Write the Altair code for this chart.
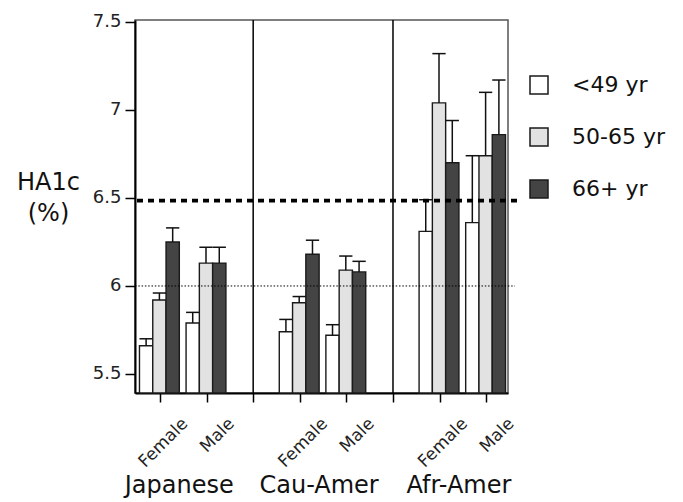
import altair as alt
import pandas as pd

groups = ["Japanese", "Cau-Amer", "Afr-Amer"]
sexes = ["Female", "Male"]
ages = ["<49 yr", "50-65 yr", "66+ yr"]

# mean HA1c per group / sex / age band
means = {
    ("Japanese", "Female"): [5.66, 5.92, 6.25],
    ("Japanese", "Male"): [5.79, 6.13, 6.13],
    ("Cau-Amer", "Female"): [5.74, 5.905, 6.18],
    ("Cau-Amer", "Male"): [5.72, 6.09, 6.08],
    ("Afr-Amer", "Female"): [6.31, 7.04, 6.70],
    ("Afr-Amer", "Male"): [6.36, 6.74, 6.86],
}
# top of the error bar
uppers = {
    ("Japanese", "Female"): [5.70, 5.96, 6.33],
    ("Japanese", "Male"): [5.85, 6.22, 6.22],
    ("Cau-Amer", "Female"): [5.81, 5.94, 6.26],
    ("Cau-Amer", "Male"): [5.78, 6.17, 6.14],
    ("Afr-Amer", "Female"): [6.49, 7.32, 6.94],
    ("Afr-Amer", "Male"): [6.74, 7.10, 7.17],
}
threshold_dashed = 6.485
threshold_dotted = 6.0
y_ticks = [5.5, 6, 6.5, 7, 7.5]
fills = ["#ffffff", "#e2e2e2", "#444444"]

W, H = 373, 373
bar_left = [-0.44, -0.155, 0.13]
bar_w = 0.285

rows = []
for gi, g in enumerate(groups):
    for si, s in enumerate(sexes):
        pos = gi * 3 + si + 1
        for ai, a in enumerate(ages):
            x0 = pos + bar_left[ai]
            rows.append(dict(group=g, sex=s, age=a, mean=means[(g, s)][ai],
                             upper=uppers[(g, s)][ai], x0=x0, x1=x0 + bar_w,
                             xc=x0 + bar_w / 2))
df = pd.DataFrame(rows)

xscale = alt.Scale(domain=[0.464, 8.468], nice=False, zero=False)
yscale = alt.Scale(domain=[5.392, 7.511], nice=False, zero=False)

label_expr = ("datum.value % 3 == 1 ? '" + sexes[0] + "' : (datum.value % 3 == 2 ? '"
              + sexes[1] + "' : '')")

xaxis = alt.Axis(values=list(range(1, 9)), labelExpr=label_expr, labelAngle=-45,
                 labelFontSize=17, labelColor="#222", grid=False, title=None,
                 labelOverlap=False, labelBound=False, labelFlush=False,
                 domainColor="black", domainWidth=2, tickColor="black", tickWidth=1.5,
                 tickSize=9, labelOffset=19, labelPadding=13)
yaxis = alt.Axis(values=y_ticks, format="~g", labelFontSize=18, labelColor="#222",
                 grid=False, domainColor="black", domainWidth=2, tickColor="black",
                 tickWidth=1.5, tickSize=10, labelPadding=4,
                 title=["HA1c", "(%)"], titleAngle=0, titleFontSize=24,
                 titleFontWeight="normal", titleColor="#111", titleAlign="center",
                 titleBaseline="alphabetic", titleX=-87, titleY=169, titleLineHeight=31)

base = alt.Chart(df)

bars = base.mark_rect(stroke="#1a1a1a", strokeWidth=1.4).encode(
    x=alt.X("x0:Q", scale=xscale, axis=xaxis),
    x2="x1:Q",
    y=alt.Y("mean:Q", scale=yscale, axis=yaxis),
    y2=alt.value(H),
    fill=alt.Fill("age:N", scale=alt.Scale(domain=ages, range=fills),
                  legend=alt.Legend(title=None, orient="none", legendX=393, legendY=54,
                                    symbolType="square", symbolSize=324,
                                    symbolStrokeColor="#1a1a1a", symbolStrokeWidth=1.5,
                                    labelFontSize=22, labelColor="#111", labelOffset=22,
                                    rowPadding=28)),
)

stems = base.mark_rule(color="#111", strokeWidth=1.5).encode(
    x="xc:Q", y="mean:Q", y2="upper:Q")
caps = base.mark_rule(color="#111", strokeWidth=1.5).encode(
    x="x0:Q", x2="x1:Q", y="upper:Q")

div_df = pd.DataFrame({"x": [3, 6]})
dividers = alt.Chart(div_df).mark_rule(color="black", strokeWidth=1.5).encode(
    x="x:Q", y=alt.value(0), y2=alt.value(H))

dashed = alt.Chart(pd.DataFrame({"y": [threshold_dashed]})).mark_rule(
    color="black", strokeWidth=3.6, strokeDash=[6, 5], clip=False).encode(
    y="y:Q", x=alt.value(2), x2=alt.value(W + 12))
dotted = alt.Chart(pd.DataFrame({"y": [threshold_dotted]})).mark_rule(
    color="black", strokeWidth=1, strokeDash=[1.5, 1.8], clip=False).encode(
    y="y:Q", x=alt.value(0), x2=alt.value(W + 7))

grp_df = pd.DataFrame({"group": groups, "mid": [2 + 3 * i - 0.5 for i in range(3)]})
grp_text = alt.Chart(grp_df).mark_text(fontSize=24, color="#111", baseline="alphabetic",
                                        align="center", dx=-4).encode(
    x="mid:Q", y=alt.value(H + 100), text="group:N")

chart = alt.layer(bars, stems, caps, dividers, dashed, dotted, grp_text).properties(
    width=W, height=H, autosize=alt.AutoSizeParams(type="none"),
    padding={"left": 127, "top": 12, "right": 167, "bottom": 111},
).configure(font="DejaVu Sans").configure_view(stroke="#555", strokeWidth=1.5)

chart.save("out.html", embed_options={"renderer": "svg", "actions": False})
